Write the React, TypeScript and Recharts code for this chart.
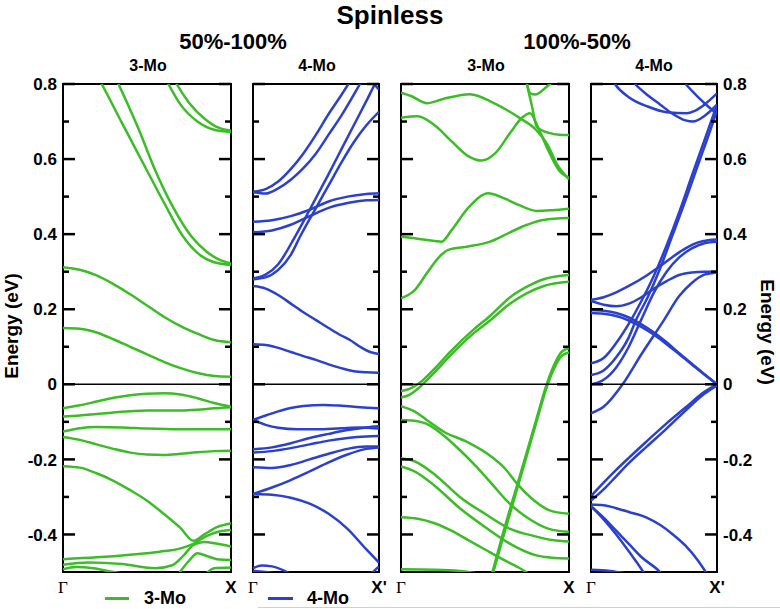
import React from 'react';
import { LineChart, Line, XAxis, YAxis, ReferenceLine, ReferenceArea } from 'recharts';

type Band = [number, number][];

const GREEN = '#3bbd26';
const BLUE = '#2b40cf';
const FONT = '"Liberation Sans", Arial, sans-serif';

// energy ticks (eV); labels only on the even ones
const yTicks = [-0.4, -0.3, -0.2, -0.1, 0, 0.1, 0.2, 0.3, 0.4, 0.5, 0.6, 0.7, 0.8];
const kTicks = [0, 1];

// 3-Mo, 50%-100%  (k from Γ=0 to X=1, energy in eV)
const bands3MoA: Band[] = [
  [[0, 0.98], [0.1, 0.9], [0.23, 0.8], [0.35, 0.697], [0.498, 0.571], [0.6, 0.485], [0.716, 0.393], [0.8, 0.35], [0.9, 0.325], [1, 0.318]],
  [[0, 1.08], [0.15, 0.96], [0.33, 0.8], [0.45, 0.68], [0.548, 0.571], [0.65, 0.476], [0.766, 0.393], [0.85, 0.355], [0.93, 0.332], [1, 0.322]],
  [[0.45, 0.95], [0.55, 0.87], [0.627, 0.8], [0.7, 0.745], [0.8, 0.7], [0.9, 0.678], [1, 0.672]],
  [[0.5, 0.95], [0.6, 0.87], [0.677, 0.8], [0.75, 0.75], [0.85, 0.705], [0.93, 0.683], [1, 0.676]],
  [[0, 0.312], [0.1, 0.305], [0.2, 0.29], [0.3, 0.267], [0.4, 0.24], [0.5, 0.21], [0.6, 0.18], [0.7, 0.155], [0.8, 0.135], [0.9, 0.118], [1, 0.112]],
  [[0, 0.15], [0.1, 0.148], [0.2, 0.138], [0.3, 0.12], [0.4, 0.1], [0.5, 0.08], [0.6, 0.06], [0.7, 0.043], [0.8, 0.03], [0.9, 0.022], [1, 0.02]],
  [[0, -0.064], [0.1, -0.056], [0.2, -0.046], [0.3, -0.036], [0.4, -0.029], [0.5, -0.025], [0.6, -0.024], [0.7, -0.027], [0.8, -0.037], [0.9, -0.05], [1, -0.06]],
  [[0, -0.086], [0.1, -0.083], [0.2, -0.079], [0.3, -0.075], [0.4, -0.072], [0.5, -0.07], [0.6, -0.07], [0.7, -0.07], [0.8, -0.068], [0.9, -0.064], [1, -0.061]],
  [[0, -0.126], [0.1, -0.117], [0.2, -0.114], [0.35, -0.115], [0.5, -0.118], [0.7, -0.12], [0.85, -0.12], [1, -0.12]],
  [[0, -0.14], [0.1, -0.148], [0.2, -0.16], [0.3, -0.172], [0.4, -0.182], [0.5, -0.187], [0.6, -0.188], [0.7, -0.185], [0.8, -0.181], [0.9, -0.178], [1, -0.177]],
  [[0, -0.218], [0.1, -0.222], [0.2, -0.237], [0.3, -0.257], [0.4, -0.282], [0.5, -0.31], [0.6, -0.345], [0.7, -0.383], [0.776, -0.417], [0.84, -0.4], [0.92, -0.38], [1, -0.37]],
  [[0, -0.466], [0.2, -0.461], [0.4, -0.454], [0.577, -0.446], [0.7, -0.437], [0.776, -0.425], [0.85, -0.405], [0.93, -0.392], [1, -0.388]],
  [[0, -0.481], [0.15, -0.475], [0.35, -0.479], [0.55, -0.49], [0.65, -0.482], [0.72, -0.455], [0.776, -0.428], [0.84, -0.42], [0.92, -0.425], [1, -0.432]],
  [[0, -0.493], [0.08, -0.487], [0.18, -0.49], [0.3, -0.5], [0.45, -0.51]],
  [[0.68, -0.51], [0.75, -0.47], [0.8, -0.45], [0.86, -0.458], [0.93, -0.467], [1, -0.468]],
  [[0.82, -0.52], [0.9, -0.49], [1, -0.488]],
];

// 4-Mo, 50%-100%  (Γ to X')
const bands4MoA: Band[] = [
  [[0, 0.513], [0.1, 0.52], [0.2, 0.54], [0.294, 0.571], [0.4, 0.615], [0.5, 0.665], [0.6, 0.72], [0.7, 0.77], [0.757, 0.8], [0.85, 0.85]],
  [[0, 0.512], [0.1, 0.508], [0.2, 0.522], [0.3, 0.545], [0.386, 0.571], [0.5, 0.615], [0.6, 0.665], [0.7, 0.715], [0.849, 0.8], [0.95, 0.86]],
  [[0, 0.433], [0.15, 0.437], [0.3, 0.448], [0.45, 0.465], [0.6, 0.487], [0.75, 0.5], [0.9, 0.507], [1, 0.509]],
  [[0, 0.405], [0.15, 0.41], [0.3, 0.425], [0.45, 0.448], [0.6, 0.47], [0.75, 0.483], [0.9, 0.49], [1, 0.491]],
  [[0, 0.282], [0.1, 0.292], [0.2, 0.32], [0.333, 0.393], [0.45, 0.465], [0.6, 0.56], [0.7, 0.625], [0.8, 0.69], [0.9, 0.755], [0.968, 0.8], [1, 0.82]],
  [[0, 0.28], [0.1, 0.285], [0.2, 0.305], [0.3, 0.345], [0.373, 0.393], [0.5, 0.47], [0.6, 0.53], [0.7, 0.59], [0.8, 0.645], [0.9, 0.69], [1, 0.726]],
  [[0.85, 0.87], [0.93, 0.815], [1, 0.785]],
  [[0, 0.262], [0.1, 0.255], [0.2, 0.238], [0.3, 0.215], [0.4, 0.192], [0.5, 0.171], [0.6, 0.15], [0.7, 0.13], [0.77, 0.118], [0.85, 0.1], [0.93, 0.086], [1, 0.081]],
  [[0, 0.107], [0.1, 0.105], [0.2, 0.097], [0.3, 0.086], [0.4, 0.075], [0.5, 0.065], [0.6, 0.053], [0.7, 0.043], [0.8, 0.035], [0.9, 0.032], [1, 0.031]],
  [[0, -0.095], [0.1, -0.083], [0.2, -0.072], [0.3, -0.063], [0.4, -0.058], [0.558, -0.055], [0.7, -0.057], [0.85, -0.061], [1, -0.064]],
  [[0, -0.095], [0.1, -0.108], [0.2, -0.116], [0.35, -0.12], [0.5, -0.12], [0.7, -0.117], [0.85, -0.115], [1, -0.118]],
  [[0, -0.173], [0.15, -0.168], [0.3, -0.157], [0.45, -0.143], [0.6, -0.132], [0.75, -0.122], [0.9, -0.115], [1, -0.112]],
  [[0, -0.182], [0.15, -0.178], [0.3, -0.17], [0.45, -0.16], [0.6, -0.15], [0.75, -0.143], [0.9, -0.139], [1, -0.138]],
  [[0, -0.221], [0.15, -0.223], [0.3, -0.215], [0.45, -0.2], [0.6, -0.185], [0.75, -0.172], [0.9, -0.166], [1, -0.166]],
  [[0, -0.292], [0.15, -0.275], [0.3, -0.255], [0.45, -0.232], [0.6, -0.208], [0.75, -0.187], [0.9, -0.172], [1, -0.168]],
  [[0, -0.292], [0.15, -0.294], [0.3, -0.302], [0.45, -0.318], [0.6, -0.345], [0.75, -0.385], [0.9, -0.44], [1, -0.475]],
  [[0, -0.49], [0.07, -0.483], [0.15, -0.485], [0.3, -0.505]],
  [[0, -0.497], [0.1, -0.5], [0.2, -0.505]],
  [[0.92, -0.51], [1, -0.485]],
];

// 3-Mo, 100%-50%
const bands3MoB: Band[] = [
  [[0, 0.777], [0.06, 0.768], [0.153, 0.749], [0.25, 0.76], [0.41, 0.773], [0.55, 0.75], [0.708, 0.709], [0.8, 0.68], [0.87, 0.64], [0.93, 0.585], [1, 0.546]],
  [[0, 0.71], [0.1, 0.714], [0.2, 0.69], [0.3, 0.648], [0.4, 0.608], [0.48, 0.596], [0.56, 0.615], [0.65, 0.67], [0.72, 0.71], [0.768, 0.722], [0.82, 0.68], [0.88, 0.62], [0.94, 0.57], [1, 0.55]],
  [[0.73, 0.85], [0.75, 0.8], [0.78, 0.74], [0.808, 0.686], [0.887, 0.669], [0.94, 0.665], [1, 0.664]],
  [[0.74, 0.82], [0.77, 0.775], [0.8, 0.772], [0.86, 0.79], [0.9, 0.805]],
  [[0, 0.393], [0.1, 0.388], [0.2, 0.382], [0.242, 0.38], [0.3, 0.41], [0.4, 0.47], [0.52, 0.509], [0.6, 0.498], [0.7, 0.478], [0.808, 0.462], [0.9, 0.464], [1, 0.468]],
  [[0, 0.229], [0.08, 0.25], [0.16, 0.3], [0.24, 0.345], [0.282, 0.358], [0.4, 0.367], [0.53, 0.38], [0.65, 0.405], [0.75, 0.425], [0.847, 0.438], [1, 0.443]],
  [[0, -0.018], [0.05, -0.012], [0.1, 0.0], [0.2, 0.042], [0.3, 0.09], [0.43, 0.145], [0.53, 0.182], [0.65, 0.232], [0.75, 0.26], [0.85, 0.28], [1, 0.291]],
  [[0, -0.035], [0.05, -0.028], [0.1, -0.012], [0.2, 0.032], [0.3, 0.08], [0.43, 0.135], [0.53, 0.17], [0.65, 0.215], [0.75, 0.243], [0.85, 0.262], [1, 0.273]],
  [[0.52, -0.54], [0.6, -0.408], [0.7, -0.255], [0.8, -0.102], [0.867, 0.0], [0.92, 0.06], [0.96, 0.088], [1, 0.096]],
  [[0.525, -0.54], [0.6, -0.42], [0.7, -0.265], [0.8, -0.11], [0.87, -0.005], [0.92, 0.05], [0.96, 0.077], [1, 0.085]],
  [[0, -0.058], [0.08, -0.072], [0.153, -0.095], [0.25, -0.125], [0.4, -0.155], [0.53, -0.19], [0.62, -0.225], [0.689, -0.264], [0.78, -0.305], [0.88, -0.335], [1, -0.345]],
  [[0, -0.095], [0.08, -0.097], [0.15, -0.105], [0.25, -0.135], [0.35, -0.175], [0.45, -0.22], [0.55, -0.27], [0.629, -0.31], [0.75, -0.355], [0.88, -0.385], [1, -0.393]],
  [[0, -0.197], [0.08, -0.205], [0.2, -0.24], [0.35, -0.3], [0.5, -0.345], [0.65, -0.385], [0.8, -0.405], [0.9, -0.415], [1, -0.419]],
  [[0, -0.219], [0.08, -0.232], [0.2, -0.27], [0.35, -0.33], [0.5, -0.38], [0.65, -0.425], [0.8, -0.455], [0.9, -0.462], [1, -0.464]],
  [[0, -0.354], [0.1, -0.358], [0.2, -0.37], [0.3, -0.39], [0.4, -0.415], [0.5, -0.44], [0.6, -0.465], [0.7, -0.488], [0.78, -0.51]],
  [[0, -0.493], [0.2, -0.494], [0.35, -0.497], [0.47, -0.505]],
];

// 4-Mo, 100%-50%
const bands4MoB: Band[] = [
  [[0.1, 0.86], [0.19, 0.8], [0.3, 0.765], [0.45, 0.74], [0.6, 0.725], [0.76, 0.722], [0.82, 0.728], [0.9, 0.745], [1, 0.775]],
  [[0.25, 0.84], [0.349, 0.8], [0.45, 0.77], [0.55, 0.745], [0.65, 0.72], [0.75, 0.703], [0.81, 0.7], [0.9, 0.715], [1, 0.745]],
  [[0.75, 0.8], [0.85, 0.765], [0.93, 0.74], [1, 0.72]],
  [[0, 0.225], [0.1, 0.232], [0.2, 0.245], [0.3, 0.262], [0.442, 0.29], [0.55, 0.315], [0.65, 0.34], [0.75, 0.362], [0.85, 0.378], [0.93, 0.384], [1, 0.386]],
  [[0, 0.222], [0.1, 0.212], [0.2, 0.208], [0.3, 0.215], [0.4, 0.232], [0.5, 0.255], [0.6, 0.275], [0.706, 0.292], [0.8, 0.298], [0.9, 0.3], [1, 0.3]],
  [[0, 0.198], [0.1, 0.196], [0.2, 0.19], [0.3, 0.178], [0.4, 0.16], [0.5, 0.138], [0.6, 0.112], [0.7, 0.083], [0.8, 0.055], [0.9, 0.027], [1, 0.0]],
  [[0, 0.19], [0.1, 0.188], [0.2, 0.182], [0.3, 0.17], [0.4, 0.153], [0.5, 0.132], [0.6, 0.107], [0.7, 0.08], [0.8, 0.053], [0.9, 0.026], [1, 0.0]],
  [[0, 0.056], [0.1, 0.07], [0.2, 0.11], [0.317, 0.171], [0.4, 0.222], [0.5, 0.29], [0.6, 0.37], [0.706, 0.464], [0.8, 0.555], [0.9, 0.65], [1, 0.745]],
  [[0, 0.025], [0.1, 0.037], [0.2, 0.072], [0.3, 0.125], [0.357, 0.171], [0.45, 0.232], [0.55, 0.31], [0.65, 0.4], [0.75, 0.49], [0.85, 0.585], [0.95, 0.68], [1, 0.73]],
  [[0, 0.0], [0.1, 0.012], [0.2, 0.045], [0.3, 0.1], [0.397, 0.171], [0.5, 0.245], [0.6, 0.3], [0.7, 0.338], [0.8, 0.362], [0.9, 0.376], [1, 0.38]],
  [[0, -0.077], [0.1, -0.06], [0.251, 0.0], [0.4, 0.08], [0.579, 0.171], [0.7, 0.235], [0.8, 0.27], [0.9, 0.292], [1, 0.298]],
  [[0, -0.298], [0.1, -0.262], [0.2, -0.228], [0.3, -0.196], [0.442, -0.152], [0.6, -0.104], [0.75, -0.062], [0.9, -0.02], [1, 0.0]],
  [[0, -0.31], [0.1, -0.28], [0.2, -0.245], [0.3, -0.21], [0.442, -0.166], [0.6, -0.118], [0.75, -0.07], [0.9, -0.025], [1, -0.003]],
  [[0, -0.32], [0.1, -0.322], [0.2, -0.33], [0.3, -0.34], [0.442, -0.355], [0.55, -0.375], [0.65, -0.4], [0.75, -0.43], [0.85, -0.47], [0.93, -0.51]],
  [[0, -0.325], [0.1, -0.36], [0.2, -0.4], [0.3, -0.445], [0.415, -0.5], [0.45, -0.52]],
  [[0, -0.325], [0.1, -0.355], [0.2, -0.39], [0.3, -0.425], [0.4, -0.46], [0.548, -0.5], [0.6, -0.52]],
  [[0, -0.494], [0.15, -0.497], [0.3, -0.505]],
];

const TOP = 84;
const PLOT_H = 488;
const SIDE = 45;
const M_TOP = 10;
const X_AXIS_H = 26;

const fmt = (v: number) => (Math.abs(v) < 1e-9 ? '0' : v.toFixed(1));

function Panel({ left, width, bands, color, endLabel, side }: {
  left: number; width: number; bands: Band[]; color: string; endLabel: string; side: 'left' | 'right' | 'none';
}) {
  const L = SIDE;
  const R = SIDE + width;
  const yTick = (p: any) => {
    const v = p.payload.value;
    const major = Math.round(v * 10) % 2 === 0;
    const len = major ? 12 : 6;
    return (
      <g>
        <line x1={L} x2={L + len} y1={p.y} y2={p.y} stroke="#000" strokeWidth={2.5} />
        <line x1={R - len} x2={R} y1={p.y} y2={p.y} stroke="#000" strokeWidth={2.5} />
        {major && side === 'left' && (
          <text x={L - 6} y={p.y} dy="0.36em" textAnchor="end" fontFamily={FONT} fontWeight="bold" fontSize={17} fill="#000">{fmt(v)}</text>
        )}
        {major && side === 'right' && (
          <text x={R + 6} y={p.y} dy="0.36em" textAnchor="start" fontFamily={FONT} fontWeight="bold" fontSize={17} fill="#000">{fmt(v)}</text>
        )}
      </g>
    );
  };
  const xTick = (p: any) => {
    const y = M_TOP + PLOT_H + 15;
    if (p.payload.value === 0) {
      return <text x={p.x} y={y} dy="0.36em" textAnchor="middle" fontFamily='"Liberation Serif", "Times New Roman", serif' fontSize={17} fill="#000">Γ</text>;
    }
    return <text x={p.x} y={y} dy="0.36em" textAnchor="middle" fontFamily={FONT} fontWeight="bold" fontSize={17} fill="#000">{endLabel}</text>;
  };
  return (
    <div style={{ position: 'absolute', left: left - SIDE, top: TOP - M_TOP }}>
      <LineChart width={width + 2 * SIDE} height={M_TOP + PLOT_H + X_AXIS_H} margin={{ top: M_TOP, right: SIDE, bottom: 0, left: 0 }}>
        <XAxis type="number" dataKey="k" domain={[0, 1]} ticks={kTicks} allowDataOverflow height={X_AXIS_H} axisLine={false} tickLine={false} tick={xTick} interval={0} />
        <YAxis type="number" domain={[-0.5, 0.8]} ticks={yTicks} allowDataOverflow width={SIDE} axisLine={false} tickLine={false} tick={yTick} interval={0} />
        {bands.map((b, i) => (
          <Line key={i} data={b.map(([k, e]) => ({ k, e }))} dataKey="e" type="monotone" stroke={color} strokeWidth={2.5} dot={false} activeDot={false} isAnimationActive={false} />
        ))}
        <ReferenceLine y={0} stroke="#000" strokeWidth={1.5} />
        <ReferenceArea x1={0} x2={1} y1={-0.5} y2={0.8} fill="none" stroke="#000" strokeWidth={2} ifOverflow="visible" />
      </LineChart>
    </div>
  );
}

const centered = (x: number, y: number, size: number, extra: React.CSSProperties = {}): React.CSSProperties => ({
  position: 'absolute', left: x, top: y, transform: 'translate(-50%, -50%)', fontFamily: FONT, fontWeight: 'bold',
  fontSize: size, lineHeight: 1.2, whiteSpace: 'nowrap', color: '#000', ...extra,
});

export default function App() {
  return (
    <div style={{ position: 'absolute', left: 0, top: 0, width: 780, height: 609, background: '#fff', overflow: 'hidden' }}>
      <div style={centered(390, 16, 26)}>Spinless</div>
      <div style={centered(233, 42, 22)}>50%-100%</div>
      <div style={centered(577, 42, 22)}>100%-50%</div>
      <div style={centered(148, 66, 16)}>3-Mo</div>
      <div style={centered(317, 66, 16)}>4-Mo</div>
      <div style={centered(486, 66, 16)}>3-Mo</div>
      <div style={centered(654, 66, 16)}>4-Mo</div>
      <div style={centered(12, 326, 19, { transform: 'translate(-50%, -50%) rotate(-90deg)' })}>Energy (eV)</div>
      <div style={centered(767, 332, 19, { transform: 'translate(-50%, -50%) rotate(90deg)' })}>Energy (eV)</div>

      <Panel left={63} width={168} bands={bands3MoA} color={GREEN} endLabel="X" side="left" />
      <Panel left={253} width={126} bands={bands4MoA} color={BLUE} endLabel="X'" side="none" />
      <Panel left={401} width={168} bands={bands3MoB} color={GREEN} endLabel="X" side="none" />
      <Panel left={591} width={126} bands={bands4MoB} color={BLUE} endLabel="X'" side="right" />

      <div style={{ position: 'absolute', left: 105, top: 597, width: 24, height: 2.5, background: GREEN }} />
      <div style={{ ...centered(165, 599, 18) }}>3-Mo</div>
      <div style={{ position: 'absolute', left: 268, top: 597, width: 25, height: 2.5, background: BLUE }} />
      <div style={{ ...centered(328, 599, 18) }}>4-Mo</div>
      <div style={{ position: 'absolute', left: 258, top: 607, width: 522, height: 1, background: '#cfcfcf' }} />
    </div>
  );
}
